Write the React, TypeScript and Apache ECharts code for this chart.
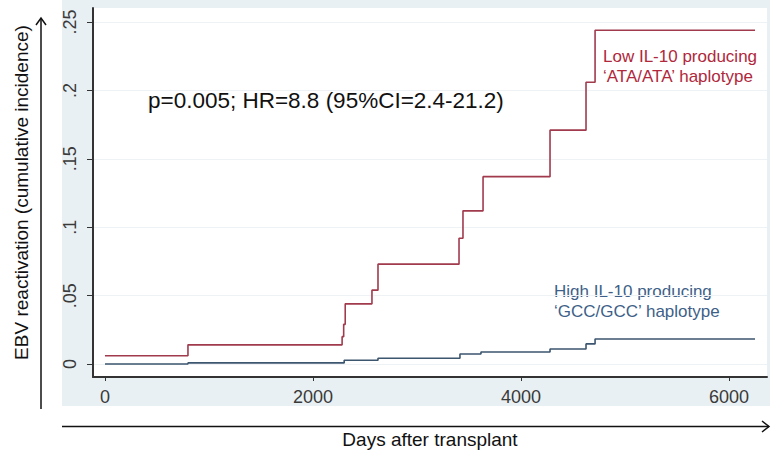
import React, { useEffect, useRef } from "react";
import * as echarts from "echarts";

// Cumulative incidence of EBV reactivation by IL-10 haplotype
const redDays = [0, 798, 2280, 2295, 2310, 2567, 2625, 3404, 3442, 3635, 4279, 4625, 4712, 6250];
const redIncidence = [0.006, 0.014, 0.02, 0.029, 0.044, 0.054, 0.073, 0.092, 0.112, 0.137, 0.171, 0.206, 0.244, 0.244];

const blueDays = [0, 798, 2300, 2625, 3413, 3615, 4279, 4625, 4712, 6250];
const blueIncidence = [0, 0.0008, 0.0027, 0.0042, 0.0073, 0.0088, 0.011, 0.0147, 0.0183, 0.0183];

const xTicks = [0, 2000, 4000, 6000];
const yTicks = [0, 0.05, 0.1, 0.15, 0.2, 0.25];

const lowLabel = ["Low IL-10 producing", "\u2018ATA/ATA\u2019 haplotype"];
const highLabel = ["High IL-10 producing", "\u2018GCC/GCC\u2019 haplotype"];
const statText = "p=0.005; HR=8.8 (95%CI=2.4-21.2)";

const FONT = "'Liberation Sans', Arial, sans-serif";
const RED = "#a03a4c";
const BLUE = "#3c566f";

const pairs = (xs: number[], ys: number[]) => xs.map((x, i) => [x, ys[i]]);
const fmtY = (v: number) => (v === 0 ? "0" : String(v).replace(/^0/, ""));

export default function App() {
  const ref = useRef<HTMLDivElement>(null);

  useEffect(() => {
    if (!ref.current) return;
    const chart = echarts.init(ref.current, null, { renderer: "svg" });
    chart.setOption({
      animation: false,
      backgroundColor: "#ffffff",
      grid: {
        left: 93,
        right: 9,
        top: 8,
        bottom: 77,
        outerBoundsMode: "none",
        containLabel: false,
        show: true,
        backgroundColor: "#ffffff",
        borderWidth: 0,
      },
      xAxis: {
        type: "value",
        min: -115,
        max: 6365,
        name: "Days after transplant",
        nameLocation: "middle",
        nameGap: 53,
        nameTextStyle: { fontFamily: FONT, fontSize: 19, color: "#111" },
        axisLine: { show: true, onZero: false, lineStyle: { color: "#333", width: 2 } },
        axisTick: { show: true, customValues: xTicks, length: 4, lineStyle: { color: "#333" } },
        axisLabel: {
          customValues: xTicks,
          formatter: (v: number) => String(v),
          fontFamily: FONT,
          fontSize: 18,
          color: "#3a3a3a",
          margin: 11,
        },
        splitLine: { show: false },
      },
      yAxis: {
        type: "value",
        min: -0.0095,
        max: 0.2603,
        name: "EBV reactivation (cumulative incidence)",
        nameLocation: "middle",
        nameGap: 62,
        nameTextStyle: { fontFamily: FONT, fontSize: 19, color: "#111" },
        axisLine: { show: true, onZero: false, lineStyle: { color: "#333", width: 2 } },
        axisTick: { show: true, customValues: yTicks, length: 6, lineStyle: { color: "#333" } },
        axisLabel: {
          customValues: yTicks,
          rotate: 90,
          formatter: fmtY,
          fontFamily: FONT,
          fontSize: 18,
          color: "#3a3a3a",
          margin: 14,
        },
        splitLine: { show: true, lineStyle: { color: "#eef2f4", width: 1 } },
      },
      series: [
        {
          type: "line",
          step: "end",
          data: pairs(redDays, redIncidence),
          symbol: "none",
          lineStyle: { color: RED, width: 1.6 },
          z: 3,
        },
        {
          type: "line",
          step: "end",
          data: pairs(blueDays, blueIncidence),
          symbol: "none",
          lineStyle: { color: BLUE, width: 1.6 },
          z: 3,
        },
      ],
      graphic: [
        {
          type: "rect",
          z: -10,
          silent: true,
          shape: { x: 62, y: 0, width: 708, height: 406 },
          style: { fill: "#e9f0f3" },
        },
        {
          type: "group",
          silent: true,
          children: [
            { type: "line", shape: { x1: 41, y1: 409, x2: 41, y2: 18 }, style: { stroke: "#111", lineWidth: 1.5 } },
            { type: "polyline", shape: { points: [[36, 25], [41, 18], [46, 25]] }, style: { stroke: "#111", lineWidth: 1.5, fill: null } },
            { type: "line", shape: { x1: 62, y1: 426.5, x2: 769, y2: 426.5 }, style: { stroke: "#111", lineWidth: 1.5 } },
            { type: "polyline", shape: { points: [[762, 421], [769, 426.5], [762, 432]] }, style: { stroke: "#111", lineWidth: 1.5, fill: null } },
          ],
        },
        {
          type: "text",
          left: 148,
          top: 89,
          style: { text: statText, font: `22.5px ${FONT}`, fill: "#111" },
        },
        {
          type: "text",
          left: 603,
          top: 46,
          style: { text: lowLabel.join("\n"), font: `17px ${FONT}`, fill: "#b0283c", lineHeight: 20 },
        },
        {
          type: "text",
          left: 554,
          top: 281,
          style: { text: highLabel.join("\n"), font: `17px ${FONT}`, fill: "#3e5f88", lineHeight: 20 },
        },
      ],
    });
    return () => chart.dispose();
  }, []);

  return (
    <div
      ref={ref}
      style={{ position: "fixed", left: 0, top: 0, width: 776, height: 454 }}
    />
  );
}
